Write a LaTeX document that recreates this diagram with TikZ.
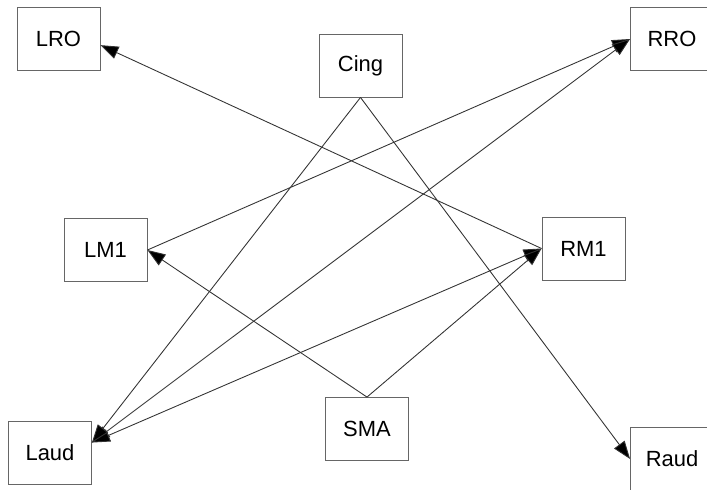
\documentclass[tikz,border=0pt]{standalone}
\usepackage{fontspec}
\setmainfont{Liberation Sans}
\usetikzlibrary{arrows.meta}
\begin{document}
\begin{tikzpicture}
    [
    x=0.02cm, y=-0.02cm,
    region/.style={rectangle,draw=black!60,line width=0.5pt,inner sep=0pt,minimum width=16.6mm,minimum height=12.6mm,font=\fontsize{12.5}{15}\selectfont},
    conn/.style={draw=black!80,line width=0.5pt,-{Triangle[length=3.6mm,width=2.6mm,fill=black]}},
    biconn/.style={conn,{Triangle[length=3.6mm,width=2.6mm,fill=black]}-{Triangle[length=3.6mm,width=2.6mm,fill=black]}}
    ]
    \useasboundingbox (0,0) rectangle (707,490);
    \node (LRO) at (58.5,38.5) [region] {LRO};
    \node (Cing) at (360.5,65.5) [region] {Cing};
    \node (RRO) at (672,39) [region] {RRO};
    \node (LM1) at (105.5,250) [region] {LM1};
    \node (RM1) at (583.5,248.5) [region] {RM1};
    \node (Laud) at (50,453) [region] {Laud};
    \node (SMA) at (367,429) [region] {SMA};
    \node (Raud) at (672,459) [region] {Raud};
    \draw [conn] (RM1.west) to (LRO.-9);
    \draw [conn] (LM1.east) to (RRO.west);
    \draw [biconn] (Laud.14) to (RRO.west);
    \draw [biconn] (Laud.14) to (RM1.west);
    \draw [conn] (Cing.south) to (Laud.14);
    \draw [conn] (Cing.south) to (Raud.west);
    \draw [conn] (SMA.north) to (LM1.east);
    \draw [conn] (SMA.north) to (RM1.west);
  \end{tikzpicture}
\end{document}
